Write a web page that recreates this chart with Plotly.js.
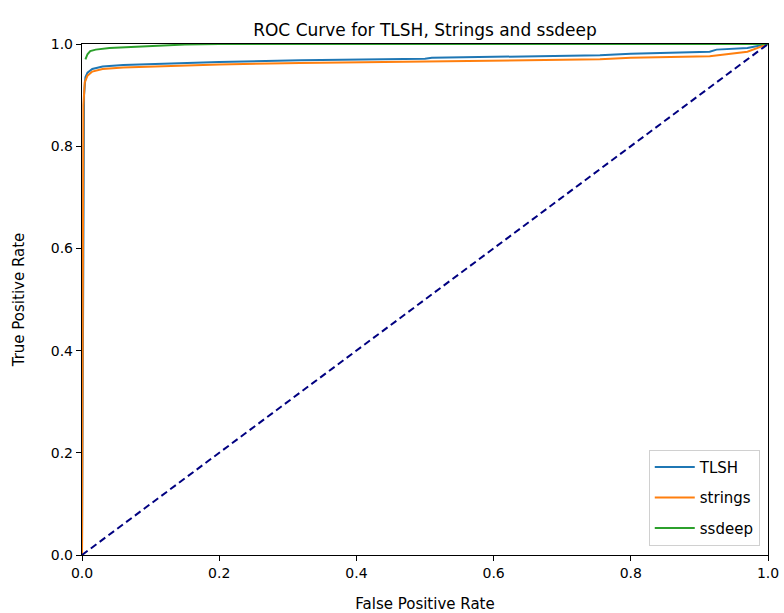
<!DOCTYPE html>
<html>
<head>
<meta charset="utf-8">
<script src="https://cdn.plot.ly/plotly-3.0.1.min.js"></script>
<style>html,body{margin:0;padding:0;background:#fff;}#chart{width:784px;height:613px;}</style>
</head>
<body>
<div id="chart"></div>
<script>
const tlshFpr = [0, 0.003, 0.005, 0.008, 0.015, 0.03, 0.06, 0.1, 0.2, 0.318, 0.5, 0.51, 0.755, 0.8, 0.915, 0.925, 0.97, 1.0];
const tlshTpr = [0, 0.90, 0.935, 0.944, 0.951, 0.956, 0.959, 0.961, 0.965, 0.968, 0.971, 0.973, 0.978, 0.981, 0.985, 0.989, 0.992, 1.0];
const strFpr = [0, 0.002, 0.004, 0.008, 0.015, 0.03, 0.06, 0.1, 0.2, 0.318, 0.5, 0.755, 0.8, 0.915, 0.97, 0.99, 1.0];
const strTpr = [0, 0.88, 0.925, 0.938, 0.946, 0.951, 0.954, 0.956, 0.960, 0.963, 0.966, 0.970, 0.973, 0.976, 0.985, 0.995, 1.0];
const ssFpr = [0.005, 0.008, 0.012, 0.02, 0.04, 0.08, 0.15, 0.2, 1.0];
const ssTpr = [0.970, 0.980, 0.986, 0.989, 0.992, 0.995, 0.999, 1.0, 1.0];
const diagX = [0, 1];
const diagY = [0, 1];
const tickVals = [0, 0.2, 0.4, 0.6, 0.8, 1.0];
const tickText = ["0.0", "0.2", "0.4", "0.6", "0.8", "1.0"];

const traces = [
  {x: tlshFpr, y: tlshTpr, mode: 'lines', name: 'TLSH', legendgroup: 'a', line: {color: '#1f77b4', width: 2}},
  {x: strFpr, y: strTpr, mode: 'lines', name: 'strings', legendgroup: 'b', line: {color: '#ff7f0e', width: 2}},
  {x: ssFpr, y: ssTpr, mode: 'lines', name: 'ssdeep', legendgroup: 'c', line: {color: '#2ca02c', width: 2}},
  {x: diagX, y: diagY, mode: 'lines', showlegend: false, line: {color: '#000080', width: 2, dash: '7px,4px'}}
];

const axisCommon = {
  range: [0, 1], tickvals: tickVals, ticktext: tickText,
  showline: true, mirror: true, linecolor: '#000', linewidth: 1.2,
  ticks: 'outside', ticklen: 5, tickwidth: 1, tickcolor: '#000',
  showgrid: false, zeroline: false,
  tickfont: {family: 'DejaVu Sans', size: 14, color: '#000'}
};

const layout = {
  width: 784, height: 613,
  margin: {l: 82, r: 16, t: 44, b: 58},
  paper_bgcolor: '#fff', plot_bgcolor: '#fff',
  title: {text: 'ROC Curve for TLSH, Strings and ssdeep', x: 0.5, xref: 'paper', y: 1, yref: 'paper', yanchor: 'bottom', pad: {b: 8}, font: {family: 'DejaVu Sans', size: 17, color: '#000'}},
  xaxis: Object.assign({}, axisCommon, {title: {text: 'False Positive Rate', standoff: 18, font: {family: 'DejaVu Sans', size: 15, color: '#000'}}}),
  yaxis: Object.assign({}, axisCommon, {title: {text: 'True Positive Rate', standoff: 22, font: {family: 'DejaVu Sans', size: 15, color: '#000'}}}),
  legend: {x: 0.988, y: 0.018, xanchor: 'right', yanchor: 'bottom', bgcolor: 'rgba(255,255,255,0.8)', bordercolor: '#d0d0d0', borderwidth: 1, font: {family: 'DejaVu Sans', size: 15, color: '#000'}, tracegroupgap: 8, itemwidth: 40},
  showlegend: true
};

Plotly.newPlot('chart', traces, layout, {displayModeBar: false, staticPlot: true});
</script>
</body>
</html>
